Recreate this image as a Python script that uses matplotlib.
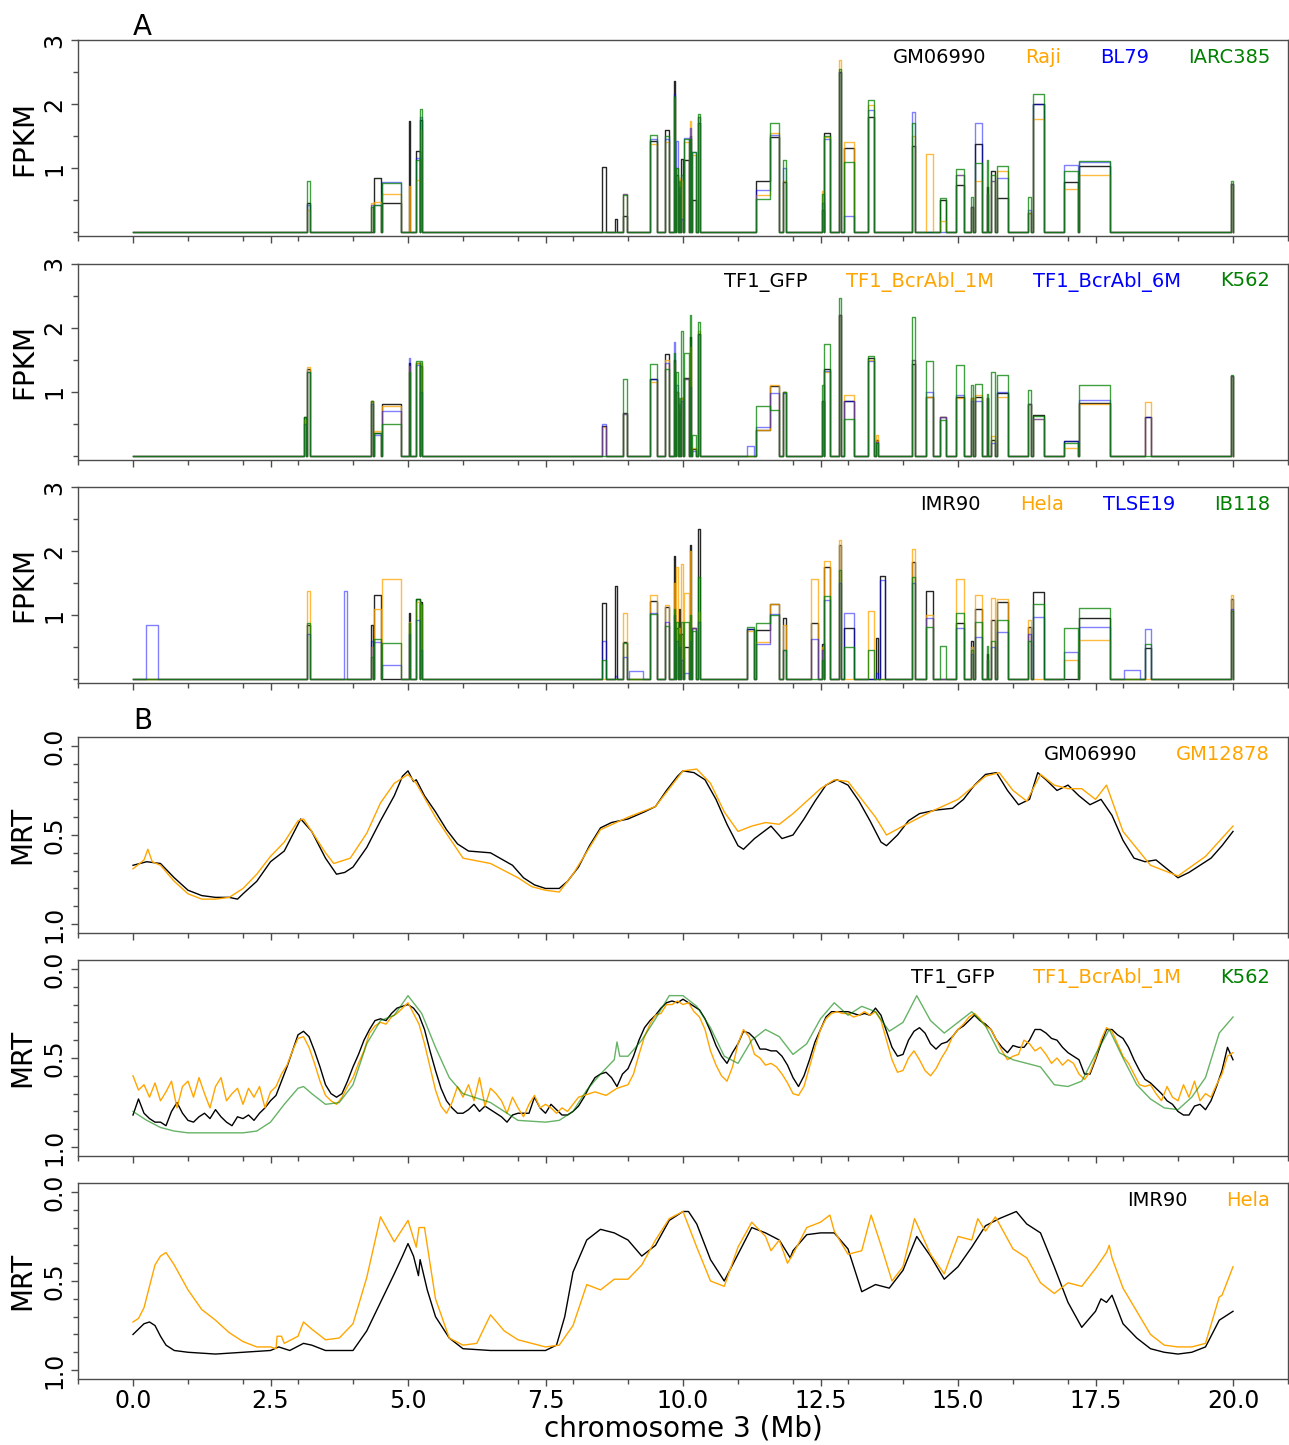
import matplotlib
matplotlib.use('Agg')

import matplotlib.pyplot as plt
from matplotlib.ticker import MultipleLocator

#=====Data: gene blocks on chr3 (Mb) and FPKM per sample=====
GENE_START = [0.23, 3.11, 3.16, 3.83, 4.33, 4.39, 4.53, 5.01, 5.15, 5.22,
              8.52, 8.77, 8.90, 9.02, 9.40, 9.68, 9.83, 9.87, 9.92, 9.97,
              10.02, 10.12, 10.16, 10.28, 11.17, 11.32, 11.58, 11.82, 12.33, 12.52,
              12.57, 12.84, 12.92, 13.36, 13.51, 13.59, 14.16, 14.42, 14.68, 14.97,
              15.24, 15.30, 15.52, 15.60, 15.71, 16.28, 16.36, 16.93, 17.20, 18.02,
              18.40, 19.97]
GENE_END = [0.45, 3.14, 3.21, 3.89, 4.37, 4.51, 4.88, 5.04, 5.21, 5.26,
            8.60, 8.80, 8.98, 9.27, 9.52, 9.75, 9.86, 9.90, 9.95, 10.00,
            10.10, 10.14, 10.23, 10.31, 11.29, 11.58, 11.74, 11.88, 12.46, 12.56,
            12.67, 12.88, 13.10, 13.47, 13.54, 13.68, 14.22, 14.54, 14.78, 15.10,
            15.27, 15.43, 15.55, 15.68, 15.90, 16.33, 16.56, 17.18, 17.77, 18.31,
            18.50, 20.00]

gm06990 = [0, 0, 0.45, 0, 0, 0.84, 0.45, 1.73, 1.27, 1.75,
           1.02, 0.2, 0.25, 0, 1.42, 1.6, 2.36, 0.9, 0.6, 1.14,
           1.12, 1.5, 0.5, 1.7, 0, 0.8, 1.48, 0.78, 0, 0.35,
           1.55, 2.5, 1.32, 1.8, 0, 0, 1.35, 0, 0.5, 0.74,
           0.4, 1.38, 0.7, 0.95, 0.53, 0.3, 2.0, 0.79, 1.03, 0,
           0, 0.75]
raji = [0, 0, 0.35, 0, 0.45, 0.47, 0.6, 0.72, 0.82, 1.6,
        0, 0, 0.6, 0, 1.38, 1.4, 2.1, 1.0, 0.85, 0.8,
        1.4, 1.74, 1.2, 1.8, 0, 0.58, 1.55, 0.8, 0, 0.64,
        1.48, 2.68, 1.4, 1.98, 0, 0, 1.5, 1.22, 0.18, 0.9,
        0.4, 0.8, 0.6, 0.8, 0.96, 0.3, 1.77, 0.68, 0.9, 0,
        0, 0.75]
bl79 = [0, 0, 0.42, 0, 0.42, 0.42, 0.78, 0, 1.15, 1.8,
        0, 0, 0.6, 0, 1.45, 1.45, 2.15, 1.42, 0.7, 0.2,
        1.47, 1.63, 1.25, 1.8, 0, 0.66, 1.52, 1.0, 0, 0.45,
        1.45, 2.5, 0.25, 1.9, 0, 0, 1.88, 0, 0, 0.9,
        0.4, 1.7, 0.6, 0.8, 0.84, 0.35, 2.0, 1.05, 1.1, 0,
        0, 0.75]
iarc385 = [0, 0, 0.8, 0, 0.4, 0.42, 0.77, 0, 1.12, 1.92,
           0, 0, 0.58, 0, 1.52, 1.5, 2.13, 1.0, 0.8, 0.9,
           1.46, 1.45, 1.25, 1.85, 0, 0.52, 1.7, 1.12, 0, 0.6,
           1.5, 2.55, 1.1, 2.07, 0, 0, 1.7, 0, 0.53, 0.98,
           0.55, 1.08, 1.12, 0.9, 1.03, 0.55, 2.15, 0.95, 1.11, 0,
           0, 0.8]

tf1_gfp = [0, 0.6, 1.35, 0, 0.85, 0.35, 0.8, 1.45, 1.45, 1.4,
           0.46, 0, 0.66, 0, 1.2, 1.58, 1.5, 1.0, 0.7, 0.9,
           1.21, 1.85, 0.1, 1.9, 0, 0.4, 1.08, 1.0, 0, 0.85,
           1.35, 2.2, 0.85, 1.52, 0.25, 0, 1.43, 0.92, 0.6, 0.91,
           0.9, 0.91, 0.9, 0.25, 0.98, 0.8, 0.63, 0.23, 0.82, 0,
           0.6, 1.25]
tf1_bcrabl_1m = [0, 0.55, 1.38, 0, 0.85, 0.38, 0.78, 1.4, 1.45, 1.45,
                 0.45, 0, 0.65, 0, 1.15, 1.5, 1.45, 1.0, 0.75, 0.9,
                 1.2, 1.7, 0.12, 1.95, 0, 0.4, 1.1, 1.0, 0, 0.85,
                 1.3, 2.2, 0.94, 1.5, 0.33, 0, 1.5, 0.92, 0.6, 0.9,
                 0.9, 0.95, 0.9, 0.3, 0.92, 0.8, 0.58, 0.12, 0.8, 0,
                 0.84, 1.25]
tf1_bcrabl_6m = [0, 0.5, 1.3, 0, 0.8, 0.33, 0.7, 1.52, 1.42, 1.0,
                 0.5, 0, 0.65, 0, 1.2, 1.45, 1.78, 1.1, 0.8, 0.85,
                 1.2, 1.07, 0.08, 1.9, 0.15, 0.45, 0.98, 0.98, 0, 0.85,
                 1.32, 2.2, 0.85, 1.48, 0.22, 0, 1.5, 1.0, 0.6, 0.95,
                 0.85, 0.85, 0.9, 0.2, 0.99, 0.8, 0.58, 0.23, 0.87, 0,
                 0.6, 1.25]
k562 = [0, 0.6, 1.3, 0, 0.85, 0.35, 0.5, 1.3, 1.48, 1.48,
        0, 0, 1.19, 0, 1.43, 1.35, 1.6, 1.3, 0.9, 1.95,
        1.6, 2.2, 0.33, 2.08, 0, 0.78, 0.72, 1.0, 0, 1.1,
        1.74, 2.46, 0.57, 1.55, 0.2, 0, 2.16, 1.48, 0.55, 1.42,
        1.1, 1.12, 0.97, 1.3, 1.26, 1.02, 0.62, 0.2, 1.1, 0,
        0, 1.26]

imr90 = [0, 0, 0.85, 0, 0.85, 1.32, 0, 1.03, 1.25, 1.2,
         1.19, 1.45, 0.58, 0, 1.22, 1.13, 1.92, 0.8, 1.1, 0.7,
         0.5, 2.1, 0.8, 2.34, 0.78, 0.76, 1.18, 0.95, 0.87, 0.55,
         1.75, 2.1, 0.8, 0, 0.65, 1.61, 1.83, 1.37, 0, 0.88,
         0.6, 1.1, 0.4, 0.92, 1.2, 0.82, 1.36, 0, 0.96, 0,
         0.48, 1.25]
hela = [0, 0, 1.37, 0, 0.5, 1.1, 1.56, 0.9, 1.2, 1.15,
        0, 0, 1.04, 0, 1.32, 1.16, 1.5, 1.75, 0.8, 1.8,
        1.35, 2.0, 0.8, 1.05, 0.75, 0.58, 1.17, 0.85, 1.56, 0.5,
        1.85, 2.18, 0, 1.07, 0, 0, 2.03, 1.0, 0, 1.56,
        0.5, 1.32, 0.3, 1.26, 1.25, 0.92, 0, 0.3, 0.61, 0,
        0, 1.31]
tlse19 = [0.85, 0, 0.7, 1.37, 0.6, 0.58, 0.22, 0.7, 0.93, 0.45,
          0.6, 0.05, 0.34, 0.12, 1.03, 0.9, 1.0, 0.6, 0.5, 0.3,
          0.1, 0.6, 0.8, 0.9, 0.78, 0.55, 1.02, 0.45, 0.62, 0.45,
          1.24, 1.5, 1.04, 0, 0.1, 1.55, 1.5, 0.95, 0, 0.8,
          0.4, 0.66, 0.3, 0.5, 0.74, 0.7, 0.97, 0.43, 0.82, 0.14,
          0.79, 1.1]
ib118 = [0, 0, 0.87, 0, 0.35, 0.62, 0.56, 0.88, 1.25, 1.18,
         0.3, 0, 0.57, 0, 1.02, 0.83, 1.1, 0.9, 0.7, 0.9,
         0.9, 1.0, 0.75, 1.6, 0.82, 0.88, 1.0, 0.45, 0, 0.3,
         1.3, 1.7, 0.5, 0.45, 0, 0, 1.6, 0.82, 0.52, 1.03,
         0.45, 0.9, 0.52, 0.6, 0.93, 0.6, 1.17, 0.8, 1.11, 0,
         0.55, 1.07]

#=====Data: MRT profiles (position Mb, MRT)=====
gm06990_pos = [0, 0.25, 0.5, 0.75, 1.0, 1.25, 1.5, 1.75, 1.9, 2.0, 2.25, 2.5, 2.75, 2.9, 3.05,
               3.25, 3.5, 3.7, 3.85, 4.0, 4.25, 4.5, 4.75, 4.9, 5.0, 5.1, 5.15, 5.3, 5.5, 5.7,
               5.9, 6.1, 6.5, 6.9, 7.1, 7.3, 7.5, 7.75, 7.9, 8.1, 8.3, 8.5, 8.7, 9.0, 9.3, 9.5,
               9.7, 9.9, 10.0, 10.2, 10.4, 10.6, 10.8, 11.0, 11.1, 11.3, 11.6, 11.8, 12.0, 12.2,
               12.4, 12.6, 12.8, 13.0, 13.2, 13.4, 13.6, 13.7, 13.9, 14.1, 14.3, 14.6, 14.9,
               15.1, 15.3, 15.5, 15.7, 15.9, 16.1, 16.3, 16.45, 16.6, 16.8, 17.0, 17.2, 17.4,
               17.6, 17.8, 18.0, 18.2, 18.4, 18.6, 18.8, 19.0, 19.2, 19.4, 19.6, 19.8, 20.0]
gm06990_mrt = [0.67, 0.65, 0.66, 0.74, 0.81, 0.84, 0.85, 0.85, 0.86, 0.83, 0.76, 0.65, 0.59, 0.50, 0.41,
               0.48, 0.63, 0.72, 0.71, 0.68, 0.57, 0.42, 0.28, 0.17, 0.14, 0.20, 0.19, 0.28, 0.37, 0.47,
               0.55, 0.59, 0.60, 0.67, 0.74, 0.78, 0.80, 0.80, 0.76, 0.68, 0.56, 0.46, 0.43, 0.41, 0.37, 0.34,
               0.25, 0.17, 0.14, 0.15, 0.19, 0.30, 0.44, 0.56, 0.58, 0.52, 0.45, 0.52, 0.50, 0.41,
               0.31, 0.22, 0.19, 0.22, 0.31, 0.42, 0.54, 0.56, 0.50, 0.42, 0.38, 0.36, 0.35,
               0.30, 0.22, 0.16, 0.15, 0.25, 0.33, 0.30, 0.15, 0.19, 0.25, 0.22, 0.28, 0.33,
               0.30, 0.39, 0.53, 0.63, 0.65, 0.64, 0.69, 0.74, 0.71, 0.67, 0.63, 0.56, 0.48]
gm12878_pos = [0, 0.2, 0.27, 0.35, 0.5, 0.75, 1.0, 1.25, 1.5, 1.75, 2.0, 2.25, 2.5, 2.75, 3.0,
               3.1, 3.25, 3.5, 3.65, 3.95, 4.25, 4.5, 4.75, 5.0, 5.15, 5.5, 6.0, 6.5, 7.0, 7.25,
               7.5, 7.75, 8.0, 8.5, 9.0, 9.5, 10.0, 10.25, 10.5, 10.75, 11.0, 11.25, 11.5, 11.75,
               12.0, 12.5, 12.75, 13.0, 13.5, 13.7, 14.0, 14.5, 15.0, 15.5, 15.75, 16.0, 16.25,
               16.5, 16.75, 17.0, 17.25, 17.5, 17.7, 18.0, 18.5, 19.0, 19.5, 20.0]
gm12878_mrt = [0.69, 0.64, 0.58, 0.65, 0.67, 0.76, 0.83, 0.86, 0.86, 0.85, 0.80, 0.72, 0.62, 0.54, 0.42,
               0.41, 0.48, 0.60, 0.66, 0.63, 0.49, 0.32, 0.21, 0.16, 0.21, 0.40, 0.63, 0.66, 0.74, 0.79,
               0.81, 0.82, 0.72, 0.47, 0.40, 0.34, 0.14, 0.13, 0.21, 0.37, 0.48, 0.45, 0.43, 0.44,
               0.38, 0.24, 0.19, 0.20, 0.40, 0.50, 0.45, 0.37, 0.30, 0.17, 0.15, 0.25, 0.31,
               0.16, 0.22, 0.24, 0.24, 0.30, 0.22, 0.48, 0.67, 0.73, 0.62, 0.45]

# TF1 samples read every 0.1 Mb from 0 to 20
tf1_gfp_mrt = [0.82, 0.73, 0.81, 0.84, 0.86, 0.86, 0.88, 0.80, 0.75, 0.81,
               0.85, 0.86, 0.83, 0.81, 0.84, 0.79, 0.83, 0.86, 0.88, 0.83,
               0.84, 0.82, 0.85, 0.81, 0.78, 0.74, 0.71, 0.63, 0.55, 0.46,
               0.37, 0.35, 0.38, 0.46, 0.55, 0.65, 0.70, 0.72, 0.70, 0.63,
               0.55, 0.48, 0.40, 0.34, 0.29, 0.28, 0.29, 0.25, 0.22, 0.21,
               0.20, 0.22, 0.26, 0.34, 0.46, 0.57, 0.67, 0.74, 0.78, 0.81,
               0.81, 0.79, 0.76, 0.80, 0.77, 0.79, 0.81, 0.83, 0.86, 0.82,
               0.81, 0.81, 0.81, 0.72, 0.78, 0.81, 0.76, 0.79, 0.82, 0.82,
               0.80, 0.77, 0.72, 0.66, 0.61, 0.59, 0.58, 0.61, 0.66, 0.59,
               0.56, 0.49, 0.40, 0.33, 0.29, 0.26, 0.22, 0.19, 0.18, 0.19,
               0.17, 0.19, 0.21, 0.23, 0.28, 0.35, 0.43, 0.49, 0.53, 0.47,
               0.42, 0.35, 0.36, 0.39, 0.45, 0.45, 0.46, 0.46, 0.49, 0.54,
               0.61, 0.66, 0.60, 0.51, 0.41, 0.34, 0.27, 0.24, 0.24, 0.24,
               0.24, 0.25, 0.26, 0.25, 0.26, 0.22, 0.26, 0.35, 0.44, 0.49,
               0.48, 0.40, 0.35, 0.33, 0.36, 0.42, 0.45, 0.42, 0.41, 0.38,
               0.34, 0.32, 0.29, 0.26, 0.29, 0.31, 0.34, 0.40, 0.44, 0.47,
               0.43, 0.44, 0.44, 0.40, 0.34, 0.34, 0.36, 0.39, 0.40, 0.44,
               0.47, 0.49, 0.51, 0.59, 0.59, 0.51, 0.42, 0.34, 0.34, 0.37,
               0.39, 0.44, 0.51, 0.57, 0.62, 0.64, 0.67, 0.70, 0.74, 0.76,
               0.80, 0.82, 0.82, 0.77, 0.76, 0.79, 0.74, 0.66, 0.57, 0.44,
               0.51]
tf1_bcrabl_1m_mrt = [0.60, 0.68, 0.65, 0.72, 0.64, 0.74, 0.69, 0.63, 0.78, 0.66,
                     0.63, 0.72, 0.61, 0.70, 0.78, 0.66, 0.61, 0.74, 0.70, 0.67,
                     0.76, 0.67, 0.72, 0.66, 0.78, 0.69, 0.66, 0.59, 0.54, 0.46,
                     0.39, 0.38, 0.44, 0.53, 0.63, 0.71, 0.74, 0.76, 0.72, 0.66,
                     0.61, 0.53, 0.46, 0.36, 0.32, 0.30, 0.31, 0.27, 0.25, 0.22,
                     0.19, 0.25, 0.31, 0.42, 0.55, 0.68, 0.77, 0.81, 0.75, 0.66,
                     0.72, 0.65, 0.74, 0.61, 0.77, 0.67, 0.70, 0.74, 0.81, 0.72,
                     0.78, 0.83, 0.76, 0.71, 0.78, 0.76, 0.78, 0.81, 0.78, 0.80,
                     0.76, 0.72, 0.71, 0.70, 0.69, 0.70, 0.71, 0.69, 0.67, 0.66,
                     0.65, 0.59, 0.48, 0.38, 0.31, 0.26, 0.25, 0.20, 0.20, 0.18,
                     0.20, 0.19, 0.24, 0.27, 0.34, 0.46, 0.54, 0.60, 0.63, 0.55,
                     0.42, 0.34, 0.38, 0.48, 0.50, 0.54, 0.53, 0.55, 0.59, 0.64,
                     0.70, 0.71, 0.66, 0.55, 0.44, 0.34, 0.28, 0.25, 0.24, 0.25,
                     0.25, 0.27, 0.26, 0.24, 0.26, 0.24, 0.29, 0.40, 0.51, 0.58,
                     0.57, 0.50, 0.46, 0.51, 0.57, 0.60, 0.56, 0.50, 0.45, 0.38,
                     0.34, 0.31, 0.27, 0.25, 0.28, 0.32, 0.34, 0.40, 0.46, 0.51,
                     0.49, 0.48, 0.40, 0.42, 0.46, 0.44, 0.48, 0.53, 0.50, 0.54,
                     0.51, 0.53, 0.59, 0.62, 0.58, 0.50, 0.40, 0.33, 0.35, 0.42,
                     0.49, 0.53, 0.59, 0.65, 0.66, 0.65, 0.70, 0.74, 0.66, 0.72,
                     0.74, 0.65, 0.72, 0.63, 0.74, 0.70, 0.72, 0.65, 0.59, 0.49,
                     0.47]
tf1_pos = [i / 10 for i in range(201)]

k562_pos = [0, 0.25, 0.5, 0.75, 1.0, 1.5, 2.0, 2.25, 2.5, 2.75, 3.0, 3.1, 3.25, 3.5, 3.75,
            4.0, 4.25, 4.5, 4.75, 5.0, 5.25, 5.5, 5.75, 6.0, 6.5, 7.0, 7.5, 7.75, 8.0, 8.25,
            8.5, 8.75, 8.8, 8.85, 9.0, 9.25, 9.5, 9.75, 10.0, 10.25, 10.5, 10.75, 11.0, 11.25,
            11.5, 11.75, 12.0, 12.25, 12.5, 12.75, 13.0, 13.25, 13.5, 13.75, 14.0, 14.25, 14.5,
            14.75, 15.0, 15.25, 15.5, 15.75, 16.0, 16.25, 16.5, 16.75, 17.0, 17.25, 17.5, 17.75,
            18.0, 18.25, 18.5, 18.75, 19.0, 19.25, 19.5, 19.75, 20.0]
k562_mrt = [0.80, 0.85, 0.89, 0.91, 0.92, 0.92, 0.92, 0.91, 0.86, 0.76, 0.67, 0.66, 0.70, 0.76, 0.75,
            0.65, 0.42, 0.29, 0.26, 0.15, 0.25, 0.44, 0.61, 0.70, 0.75, 0.85, 0.86, 0.85, 0.80, 0.68,
            0.59, 0.51, 0.41, 0.49, 0.49, 0.40, 0.28, 0.15, 0.15, 0.21, 0.33, 0.49, 0.53, 0.40,
            0.34, 0.38, 0.48, 0.42, 0.28, 0.19, 0.26, 0.21, 0.24, 0.35, 0.30, 0.15, 0.29,
            0.36, 0.30, 0.24, 0.32, 0.47, 0.51, 0.53, 0.55, 0.65, 0.66, 0.63, 0.48, 0.34,
            0.50, 0.65, 0.73, 0.78, 0.79, 0.72, 0.61, 0.36, 0.27]

imr90_pos = [0, 0.1, 0.2, 0.3, 0.4, 0.5, 0.6, 0.75, 1.0, 1.5, 2.0, 2.5, 2.65, 2.85, 3.1,
             3.25, 3.5, 3.75, 4.0, 4.25, 4.5, 4.75, 4.9, 5.0, 5.1, 5.19, 5.22, 5.35, 5.5, 5.75,
             6.0, 6.5, 7.0, 7.5, 7.7, 7.85, 8.0, 8.25, 8.5, 8.75, 9.0, 9.25, 9.5, 9.75, 10.0, 10.1,
             10.25, 10.5, 10.75, 11.0, 11.25, 11.5, 11.75, 11.95, 12.0, 12.25, 12.5, 12.75, 13.0,
             13.25, 13.5, 13.75, 14.0, 14.25, 14.5, 14.75, 15.0, 15.25, 15.5, 15.75, 16.06,
             16.25, 16.5, 16.75, 17.0, 17.25, 17.5, 17.6, 17.7, 17.8, 18.0, 18.25, 18.5, 18.75,
             19.0, 19.25, 19.5, 19.75, 20.0]
imr90_mrt = [0.80, 0.77, 0.74, 0.73, 0.75, 0.81, 0.86, 0.89, 0.90, 0.91, 0.90, 0.89, 0.87, 0.89, 0.85,
             0.86, 0.89, 0.89, 0.89, 0.78, 0.62, 0.46, 0.36, 0.29, 0.36, 0.47, 0.38, 0.55, 0.70, 0.82,
             0.88, 0.89, 0.89, 0.89, 0.86, 0.70, 0.45, 0.27, 0.21, 0.23, 0.27, 0.36, 0.30, 0.16, 0.11, 0.11,
             0.18, 0.38, 0.50, 0.35, 0.20, 0.23, 0.27, 0.37, 0.33, 0.24, 0.23, 0.23, 0.32,
             0.56, 0.52, 0.54, 0.44, 0.25, 0.36, 0.49, 0.42, 0.31, 0.19, 0.15, 0.11,
             0.18, 0.23, 0.42, 0.62, 0.76, 0.67, 0.60, 0.62, 0.58, 0.74, 0.82, 0.88, 0.90,
             0.91, 0.90, 0.87, 0.72, 0.67]
hela_pos = [0, 0.1, 0.2, 0.3, 0.4, 0.5, 0.6, 0.75, 1.0, 1.25, 1.5, 1.75, 2.0, 2.25, 2.5,
            2.6, 2.62, 2.7, 2.75, 3.0, 3.1, 3.25, 3.5, 3.75, 4.0, 4.25, 4.5, 4.75, 5.0, 5.15,
            5.2, 5.3, 5.5, 5.75, 6.0, 6.25, 6.5, 6.75, 7.0, 7.25, 7.5, 7.75, 8.0, 8.25, 8.5,
            8.75, 9.0, 9.25, 9.5, 9.75, 10.0, 10.25, 10.5, 10.75, 11.0, 11.25, 11.5, 11.6, 11.75,
            11.9, 12.0, 12.25, 12.5, 12.67, 12.75, 13.0, 13.25, 13.42, 13.6, 13.8, 14.0, 14.21,
            14.5, 14.75, 15.0, 15.25, 15.36, 15.5, 15.68, 16.0, 16.25, 16.5, 16.75, 17.0, 17.25,
            17.5, 17.7, 17.75, 17.8, 18.0, 18.25, 18.5, 18.75, 19.0, 19.25, 19.5, 19.75, 19.8, 20.0]
hela_mrt = [0.73, 0.71, 0.65, 0.53, 0.41, 0.36, 0.34, 0.41, 0.55, 0.66, 0.72, 0.79, 0.84, 0.87, 0.87,
            0.88, 0.81, 0.81, 0.85, 0.81, 0.73, 0.77, 0.83, 0.82, 0.74, 0.48, 0.14, 0.28, 0.16, 0.31,
            0.20, 0.20, 0.60, 0.82, 0.86, 0.85, 0.69, 0.78, 0.83, 0.85, 0.87, 0.86, 0.75, 0.52, 0.55,
            0.49, 0.49, 0.41, 0.27, 0.15, 0.11, 0.31, 0.50, 0.53, 0.31, 0.17, 0.25, 0.33, 0.27,
            0.40, 0.35, 0.20, 0.17, 0.13, 0.22, 0.35, 0.33, 0.13, 0.30, 0.50, 0.42, 0.15,
            0.35, 0.46, 0.25, 0.27, 0.15, 0.22, 0.14, 0.32, 0.37, 0.51, 0.57, 0.51, 0.53,
            0.43, 0.34, 0.30, 0.37, 0.54, 0.67, 0.80, 0.86, 0.87, 0.87, 0.85, 0.59, 0.58, 0.42]
#================

W, H = 1289, 1445
fig = plt.figure(figsize=(W / 100, H / 100), dpi=100)

AX_LEFT, AX_W, AX_H = 78, 1210, 196
PANEL_TOPS = [40, 263.5, 487, 737, 960, 1183]


def panel(top):
    return fig.add_axes([AX_LEFT / W, 1 - (top + AX_H) / H, AX_W / W, AX_H / H])


def fpkm_trace(values):
    # step outline of the gene blocks, back to zero between genes
    xs, ys = [0.0], [0.0]
    prev_end = None
    for s, e, v in zip(GENE_START, GENE_END, values):
        if prev_end is not None and s <= prev_end:
            xs += [s, e]
            ys += [v, v]
        else:
            if prev_end is not None:
                xs.append(prev_end)
                ys.append(0.0)
            xs += [s, s, e]
            ys += [0.0, v, v]
        prev_end = e
    xs += [prev_end, 20.0]
    ys += [0.0, 0.0]
    return xs, ys


def style(ax, bottom=False):
    for sp in ax.spines.values():
        sp.set_color('0.3')
        sp.set_linewidth(1.0)
    ax.set_xlim(-1, 21)
    ax.xaxis.set_major_locator(MultipleLocator(2.5))
    ax.xaxis.set_minor_locator(MultipleLocator(1))
    ax.tick_params(which='major', length=5, width=1, color='0.3', labelsize=17)
    ax.tick_params(which='minor', length=3.5, width=1, color='0.3')
    ax.tick_params(axis='x', pad=2.5)
    ax.tick_params(axis='y', labelrotation=90)
    for t in ax.yaxis.get_major_ticks():
        t.label1.set_verticalalignment('center')
    ax.tick_params(axis='x', labelbottom=bottom)


def add_legend(ax, names, colors):
    handles = [plt.Line2D([], [], color=c) for c in colors]
    leg = ax.legend(handles, names, loc='upper right',
                    bbox_to_anchor=(1 - 18 / AX_W, 1 - 8 / AX_H),
                    borderaxespad=0, borderpad=0, frameon=False, ncol=len(names),
                    handlelength=0, handletextpad=0, columnspacing=2.0, fontsize=14)
    for t, c in zip(leg.get_texts(), colors):
        t.set_color(c)


FPKM_COLORS = ['black', 'orange', 'blue', 'green']
FPKM_ALPHA = [0.85, 0.75, 0.5, 0.75]

fpkm_panels = [
    (['GM06990', 'Raji', 'BL79', 'IARC385'], [gm06990, raji, bl79, iarc385]),
    (['TF1_GFP', 'TF1_BcrAbl_1M', 'TF1_BcrAbl_6M', 'K562'],
     [tf1_gfp, tf1_bcrabl_1m, tf1_bcrabl_6m, k562]),
    (['IMR90', 'Hela', 'TLSE19', 'IB118'], [imr90, hela, tlse19, ib118]),
]

for i, (names, series) in enumerate(fpkm_panels):
    ax = panel(PANEL_TOPS[i])
    for vals, c, a in zip(series, FPKM_COLORS, FPKM_ALPHA):
        x, y = fpkm_trace(vals)
        ax.plot(x, y, color=c, alpha=a, lw=1.0)
    ax.set_ylim(-0.06, 3.0)
    ax.set_yticks([1, 2, 3], ['1', '2', '3'])
    ax.yaxis.set_minor_locator(MultipleLocator(0.5))
    ax.set_ylabel('FPKM', fontsize=20, labelpad=3)
    style(ax)
    add_legend(ax, names, FPKM_COLORS[:len(names)])
    if i == 0:
        ax.text(0.0, 1.026, 'A', transform=ax.get_xaxis_transform(),
                ha='left', va='baseline', fontsize=20)

mrt_panels = [
    [('GM06990', gm06990_pos, gm06990_mrt, 'black', 1.0),
     ('GM12878', gm12878_pos, gm12878_mrt, 'orange', 1.0)],
    [('TF1_GFP', tf1_pos, tf1_gfp_mrt, 'black', 1.0),
     ('TF1_BcrAbl_1M', tf1_pos, tf1_bcrabl_1m_mrt, 'orange', 1.0),
     ('K562', k562_pos, k562_mrt, 'green', 0.6)],
    [('IMR90', imr90_pos, imr90_mrt, 'black', 1.0),
     ('Hela', hela_pos, hela_mrt, 'orange', 1.0)],
]

for j, lines in enumerate(mrt_panels):
    ax = panel(PANEL_TOPS[3 + j])
    for name, pos, mrt, c, a in lines:
        ax.plot(pos, mrt, color=c, alpha=a, lw=1.0)
    ax.set_ylim(1.05, -0.05)
    ax.set_yticks([0.0, 0.5, 1.0], ['0.0', '0.5', '1.0'])
    ax.yaxis.set_minor_locator(MultipleLocator(0.1))
    ax.set_ylabel('MRT', fontsize=20, labelpad=4)
    style(ax, bottom=(j == 2))
    add_legend(ax, [l[0] for l in lines], [l[3] for l in lines])
    if j == 0:
        ax.text(0.0, 1.041, 'B', transform=ax.get_xaxis_transform(),
                ha='left', va='baseline', fontsize=20)
    if j == 2:
        ax.set_xlabel('chromosome 3 (Mb)', fontsize=20, labelpad=1)

plt.savefig('out.png', dpi=100)
